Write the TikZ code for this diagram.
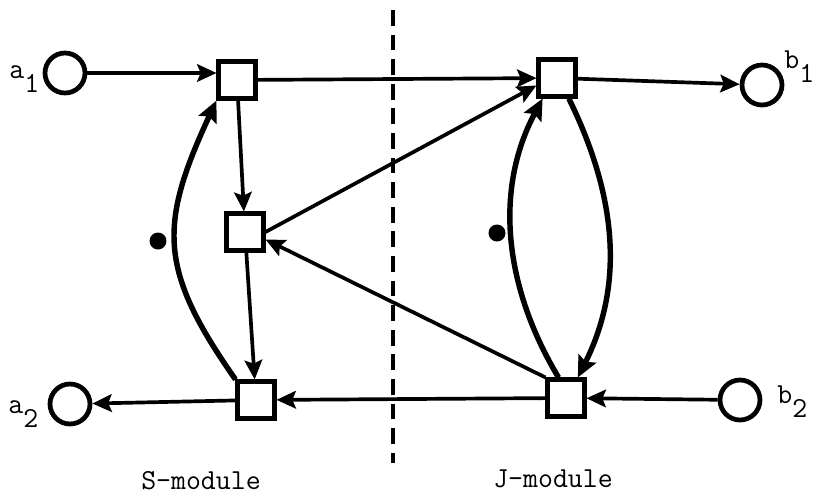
\documentclass[tikz,border=0pt]{standalone}
\usetikzlibrary{arrows.meta, positioning}

\newcommand{\pname}[2]{#1\raisebox{-8.5pt}{#2}}

\begin{document}
\begin{tikzpicture}[
    x=0.02cm, y=-0.02cm,
    place/.style={circle, draw=black, line width=2.7pt, minimum size=0.8cm, inner sep=0pt},
    trans/.style={rectangle, draw=black, line width=2.3pt, minimum size=0.74cm, inner sep=0pt, fill=white},
    lbl/.style={font=\ttfamily\fontsize{16.5}{20}\selectfont, inner sep=0pt, anchor=base west},
    modname/.style={font=\ttfamily\fontsize{16.5}{19}\selectfont, inner sep=0pt},
    token/.style={circle, fill=black, minimum size=0.34cm, inner sep=0pt},
    arc/.style={-{Stealth[length=11pt, width=10pt, inset=2pt]}, line width=2.1pt},
    loop/.style={-{Stealth[length=12pt, width=11pt, inset=2pt]}, line width=3.1pt}
]
    \useasboundingbox (0,0) rectangle (816,498);

    % Module border
    \coordinate (top) at (393,10);
    \coordinate (bot) at (393,463);
    \draw[line width=1.9pt, dash pattern=on 9pt off 5pt] (top) -- (bot);

    % Places
    \node[place] (a1) at (65,73) {};
    \node[place] (a2) at (70,404) {};
    \node[place] (b1) at (762,85) {};
    \node[place] (b2) at (740,400) {};

    % Transitions
    \node[trans] (s1) at (237,80) {};
    \node[trans] (sm) at (245,232) {};
    \node[trans] (s2) at (256,400) {};
    \node[trans] (j1) at (557,78) {};
    \node[trans] (j2) at (566,398) {};

    % Tokens
    \node[token] (k1) at (158,241) {};
    \node[token] (k2) at (497,233) {};

    % Labels
    \node[lbl] (la1) at (9,78) {\pname{a}{1}};
    \node[lbl] (la2) at (8,413) {\pname{a}{2}};
    \node[lbl] (lb1) at (784,68) {\pname{b}{1}};
    \node[lbl] (lb2) at (777,403) {\pname{b}{2}};
    \node[modname] (ls) at (201,481) {S-module};
    \node[modname] (lj) at (553,479) {J-module};

    % Straight arcs
    \draw[arc] (a1.east) -- (a1.east -| s1.west);
    \draw[arc] (s1) -- (j1);
    \draw[arc] (j1) -- (b1);
    \draw[arc] (s1) -- (sm);
    \draw[arc] (sm) -- (s2);
    \draw[arc] (sm.east) -- (j1.200);
    \draw[arc] (j2.north west) -- (sm.-20);
    \draw[arc] (j2) -- (s2);
    \draw[arc] (b2) -- (j2);
    \draw[arc] (s2) -- (a2);

    % Bent arcs
    \draw[loop] (s2.north west) .. controls +(-77,-110) and +(-58,125) .. (s1.south west);
    \draw[loop] (j2.110) .. controls +(-54,-90) and +(-49,92) .. (j1.235);
    \draw[loop] (j1.300) .. controls +(50,102) and +(45,-90) .. (j2.60);
\end{tikzpicture}
\end{document}
